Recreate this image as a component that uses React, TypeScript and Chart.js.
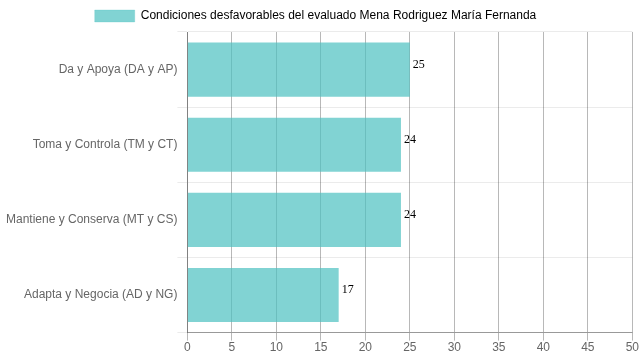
import React, { useEffect, useRef } from "react";
import { Chart, registerables } from "chart.js";

Chart.register(...registerables);

const categories = [
  "Da y Apoya (DA y AP)",
  "Toma y Controla (TM y CT)",
  "Mantiene y Conserva (MT y CS)",
  "Adapta y Negocia (AD y NG)",
];
const values = [25, 24, 24, 17];
const seriesLabel = "Condiciones desfavorables del evaluado Mena Rodriguez María Fernanda";
const xMin = 0;
const xMax = 50;
const xStep = 5;

const valueLabels = {
  id: "valueLabels",
  afterDatasetsDraw(chart: any) {
    const ctx = chart.ctx;
    ctx.save();
    ctx.font = "12px 'Liberation Serif', 'Times New Roman', serif";
    ctx.fillStyle = "#000";
    ctx.textAlign = "left";
    ctx.textBaseline = "alphabetic";
    chart.data.datasets.forEach((ds: any, i: number) => {
      const meta = chart.getDatasetMeta(i);
      meta.data.forEach((el: any, j: number) => {
        ctx.fillText(String(ds.data[j]), el.x + 3, el.y - 2);
      });
    });
    ctx.restore();
  },
};

const legendShift = {
  id: "legendShift",
  afterLayout(chart: any) {
    if (chart.legend) {
      chart.legend.left -= 7;
      chart.legend.right -= 7;
    }
  },
};

export default function App() {
  const ref = useRef<HTMLCanvasElement>(null);
  useEffect(() => {
    document.body.style.margin = "0";
    const font = { family: "Arial, 'Liberation Sans', Helvetica, sans-serif", size: 12 };
    const chart = new Chart(ref.current!, {
      type: "bar",
      data: {
        labels: categories,
        datasets: [
          {
            label: seriesLabel,
            data: values,
            backgroundColor: "rgba(75,192,192,0.7)",
            borderWidth: 0,
            categoryPercentage: 0.8,
            barPercentage: 0.9,
          },
        ],
      },
      options: {
        indexAxis: "y",
        animation: false,
        responsive: false,
        maintainAspectRatio: false,
        layout: { padding: { left: 6, right: 0, top: 0, bottom: 5 } },
        plugins: {
          legend: {
            position: "top",
            labels: {
              font,
              color: "#666",
              boxWidth: 40,
              boxHeight: 12,
              generateLabels: (c: any) => [
                {
                  text: seriesLabel,
                  fillStyle: "rgba(75,192,192,0.7)",
                  strokeStyle: "rgba(75,192,192,0.25)",
                  lineWidth: 1,
                  hidden: false,
                  datasetIndex: 0,
                },
              ],
            },
          },
          tooltip: { enabled: false },
        },
        scales: {
          x: {
            min: xMin,
            max: xMax,
            ticks: { stepSize: xStep, font, color: "#666", padding: 0 },
            grid: { color: "rgba(0,0,0,0.28)", tickLength: 8 },
            border: { color: "rgba(0,0,0,0.35)" },
          },
          y: {
            ticks: { font, color: "#666", padding: 0 },
            grid: { color: "rgba(0,0,0,0.08)", tickLength: 10 },
            border: { color: "rgba(0,0,0,0.3)" },
          },
        },
      },
      plugins: [valueLabels, legendShift],
    });
    return () => chart.destroy();
  }, []);
  return (
    <div style={{ width: 639, height: 360 }}>
      <canvas ref={ref} width={639} height={360} />
    </div>
  );
}
